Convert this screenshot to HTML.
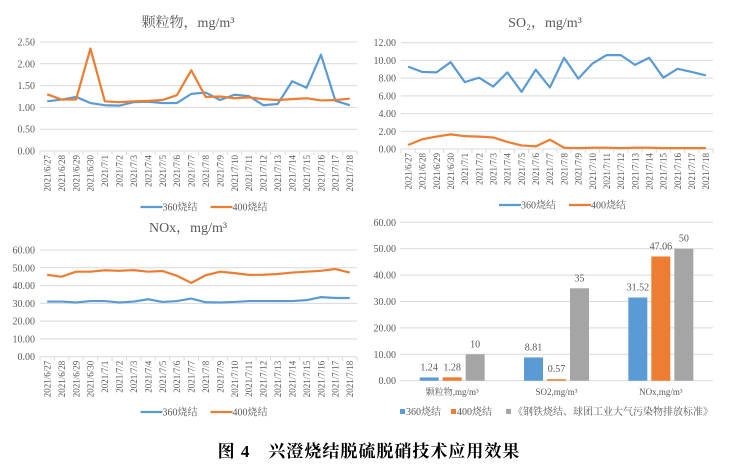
<!DOCTYPE html>
<html><head><meta charset="utf-8">
<style>
body{margin:0;background:#fff;width:749px;height:465px;overflow:hidden}
svg{display:block}
text{font-family:"Liberation Serif","Noto Serif CJK SC",serif;fill:#595959}
.cap{font-family:"Liberation Serif","Noto Serif CJK SC",serif;font-weight:bold;fill:#000}
</style></head>
<body>
<svg id="s" width="749" height="465" xmlns="http://www.w3.org/2000/svg">
<text class="cap" x="369" y="457" text-anchor="middle" font-size="17" letter-spacing="1">图 4　兴澄烧结脱硫脱硝技术应用效果</text>
</svg>
<script>
const dates = ["2021/6/27","2021/6/28","2021/6/29","2021/6/30","2021/7/1","2021/7/2","2021/7/3","2021/7/4","2021/7/5","2021/7/6","2021/7/7","2021/7/8","2021/7/9","2021/7/10","2021/7/11","2021/7/12","2021/7/13","2021/7/14","2021/7/15","2021/7/16","2021/7/17","2021/7/18"];
const pm360 = [1.14,1.18,1.24,1.10,1.05,1.04,1.12,1.13,1.10,1.10,1.31,1.34,1.17,1.29,1.26,1.05,1.08,1.60,1.45,2.21,1.15,1.05];
const pm400 = [1.30,1.18,1.18,2.35,1.14,1.12,1.14,1.15,1.17,1.28,1.85,1.24,1.25,1.21,1.23,1.19,1.17,1.19,1.21,1.16,1.17,1.20];
const so360 = [9.3,8.7,8.65,9.8,7.55,8.05,7.05,8.65,6.45,8.95,6.95,10.3,7.95,9.65,10.6,10.6,9.5,10.3,8.05,9.05,8.7,8.3];
const so400 = [0.45,1.1,1.4,1.65,1.45,1.4,1.3,0.8,0.4,0.3,1.05,0.15,0.1,0.15,0.15,0.1,0.15,0.15,0.1,0.1,0.1,0.1];
const nox360 = [31,31,30.5,31.3,31.3,30.5,31,32.3,30.8,31.3,32.7,30.6,30.5,30.8,31.3,31.3,31.3,31.3,31.8,33.5,33,33];
const nox400 = [46,45,47.8,47.8,48.6,48.3,48.7,47.8,48.2,45.5,41.5,45.8,47.8,47,46,46.1,46.5,47.3,47.8,48.3,49.3,47.3];
const pmTicks = ["0.00","0.50","1.00","1.50","2.00","2.50"];
const soTicks = ["0.00","2.00","4.00","6.00","8.00","10.00","12.00"];
const noxTicks = ["0.00","10.00","20.00","30.00","40.00","50.00","60.00"];
const barCats = ["颗粒物,mg/m³","SO2,mg/m³","NOx,mg/m³"];
const bar360 = [1.24,8.81,31.52];
const bar400 = [1.28,0.57,47.06];
const barStd = [10,35,50];
const barLabels360 = ["1.24","8.81","31.52"];
const barLabels400 = ["1.28","0.57","47.06"];
const barLabelsStd = ["10","35","50"];

const NS="http://www.w3.org/2000/svg";
const svg=document.getElementById('s');
const BLUE="#5b9bd5",ORANGE="#ed7d31",GRAY="#a5a5a5";
function el(tag,attrs,parent,txt){const e=document.createElementNS(NS,tag);for(const k in attrs)e.setAttribute(k,attrs[k]);if(txt!==undefined)e.textContent=txt;(parent||svg).appendChild(e);return e;}

function lineChart(name,title,titleX,titleY,L,R,T,B,ticks,maxV,s1,s2,legY){
  const g=el('g',{});
  
  
  const y=v=>B-(v/maxV)*(B-T);
  const cw=(R-L)/dates.length;
  const x=i=>L+cw*(i+0.5);
  const t=el('text',{x:titleX,y:titleY,'text-anchor':'middle','font-size':14},g,title);
  
  
  ticks.forEach((tk,i)=>{
    const v=maxV*i/(ticks.length-1);
    const gl=el('line',{x1:L,x2:R,y1:y(v),y2:y(v),stroke:'#d9d9d9','stroke-width':1},g);
    
    
    const tl=el('text',{x:L-5,y:y(v)+3.5,'text-anchor':'end','font-size':10},g,tk);
    
    
  });
  dates.forEach((d,i)=>{
    el('line',{x1:L+cw*i,x2:L+cw*i,y1:B,y2:B+4,stroke:'#d9d9d9'},g);
    const xl=el('text',{transform:`translate(${x(i)+3.3},${B+4}) rotate(-90)`,'text-anchor':'end','font-size':9},g,d);
    
    
  });
  el('line',{x1:R,x2:R,y1:B,y2:B+4,stroke:'#d9d9d9'},g);
  [[s1,BLUE,'series-360'],[s2,ORANGE,'series-400']].forEach(([s,c,n])=>{
    const p=el('polyline',{points:s.map((v,i)=>x(i)+','+y(v)).join(' '),fill:'none',stroke:c,'stroke-width':2.2,'stroke-linejoin':'round'},g);
    
    
  });
  const cx=(L+R)/2;
  const lg=el('g',{},g);
  
  
  el('line',{x1:cx-58,x2:cx-36,y1:legY,y2:legY,stroke:BLUE,'stroke-width':2.2},lg);
  el('text',{x:cx-36,y:legY+3.5,'font-size':10,'font-family':'"Liberation Sans","Noto Sans CJK SC",sans-serif'},lg,'360烧结');
  el('line',{x1:cx+12,x2:cx+34,y1:legY,y2:legY,stroke:ORANGE,'stroke-width':2.2},lg);
  el('text',{x:cx+34,y:legY+3.5,'font-size':10,'font-family':'"Liberation Sans","Noto Sans CJK SC",sans-serif'},lg,'400烧结');
}
lineChart('pm-chart','颗粒物，mg/m³',188,27,40,357,42,151,pmTicks,2.5,pm360,pm400,207);
lineChart('so2-chart','SO₂，mg/m³',545,27,401,713,42.7,149,soTicks,12,so360,so400,205);
lineChart('nox-chart','NOx，mg/m³',188,232,40,357,250,356.7,noxTicks,60,nox360,nox400,412);

(function(){
  const g=el('g',{});
  
  
  const L=400,R=713,T=222.3,B=380.7,maxV=60;
  const y=v=>B-(v/maxV)*(B-T);
  noxTicks.forEach((tk,i)=>{
    const v=maxV*i/(noxTicks.length-1);
    const gl=el('line',{x1:L,x2:R,y1:y(v),y2:y(v),stroke:'#d9d9d9'},g);
    
    
    const tl=el('text',{x:L-4,y:y(v)+3.5,'text-anchor':'end','font-size':10},g,tk);
    
    
  });
  const gw=(R-L)/barCats.length,bw=19,gap=4;
  const sets=[[bar360,barLabels360,BLUE,'bar-360'],[bar400,barLabels400,ORANGE,'bar-400'],[barStd,barLabelsStd,GRAY,'bar-standard']];
  barCats.forEach((c,i)=>{
    const cx=L+gw*(i+0.5);
    sets.forEach(([vals,labs,col,n],j)=>{
      const bx=cx+(j-1)*(bw+gap)-bw/2;
      const r=el('rect',{x:bx,y:y(vals[i]),width:bw,height:B-y(vals[i]),fill:col},g);
      
      
      const t=el('text',{x:bx+bw/2,y:y(vals[i])-7,'text-anchor':'middle','font-size':10},g,labs[i]);
      
      
    });
    const cl=el('text',{x:cx,y:395,'text-anchor':'middle','font-size':9},g,c);
    
    
  });
  const lg=el('g',{},g);
  
  
  const f='"Liberation Sans","Noto Sans CJK SC",sans-serif';
  el('rect',{x:400,y:409,width:5,height:5,fill:BLUE},lg);
  el('text',{x:406,y:415,'font-size':10,'font-family':f},lg,'360烧结');
  el('rect',{x:451,y:409,width:5,height:5,fill:ORANGE},lg);
  el('text',{x:457,y:415,'font-size':10,'font-family':f},lg,'400烧结');
  el('rect',{x:506,y:409,width:5,height:5,fill:GRAY},lg);
  el('text',{x:513,y:415,'font-size':10,'font-family':f},lg,'《钢铁烧结、球团工业大气污染物排放标准》');
})();
</script>
</body></html>
